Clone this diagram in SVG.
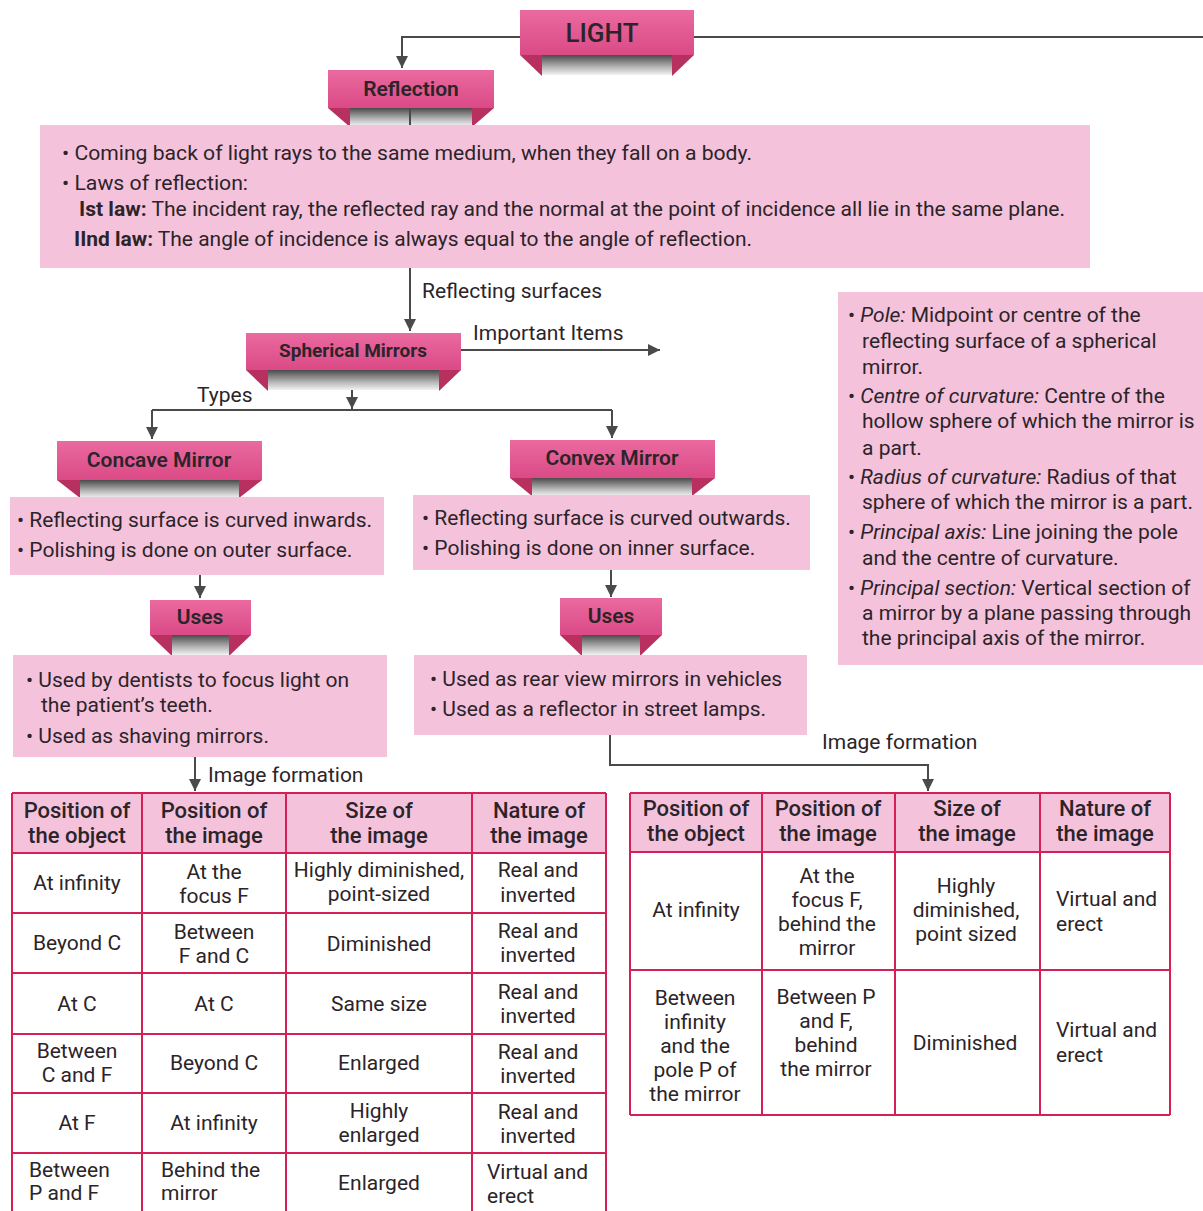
<svg xmlns="http://www.w3.org/2000/svg" width="1203" height="1211" viewBox="0 0 1203 1211">
<defs>
<linearGradient id="pk" x1="0" y1="0" x2="0" y2="1"><stop offset="0" stop-color="#ea6aa0"/><stop offset="1" stop-color="#db4a86"/></linearGradient>
<linearGradient id="gr" x1="0" y1="0" x2="0" y2="1"><stop offset="0" stop-color="#4a4a4a"/><stop offset="0.6" stop-color="#b5b5b5"/><stop offset="1" stop-color="#f2f2f2"/></linearGradient>
<marker id="ah" viewBox="0 0 10 10" refX="10" refY="5" markerWidth="12" markerHeight="12" markerUnits="userSpaceOnUse" orient="auto"><path d="M0,0 L10,5 L0,10 z" fill="#4a4a4a"/></marker>
<style>
text{font-family:Roboto,"Liberation Sans",sans-serif;fill:#2b2428}
.ban{fill:url(#pk)}
.rib{fill:url(#gr)}
.wing{fill:#b8305f}
.bt{font-weight:600;font-size:21px;text-anchor:middle}
.box{fill:#f5c2dc}
.t{font-size:21px}
.c{font-size:21px;text-anchor:middle}
.h{font-size:22px;font-weight:500;text-anchor:middle}
.lbl{font-size:21px}
.cn{fill:none;stroke:#4a4a4a;stroke-width:2}
.tb{fill:none;stroke:#d51f55;stroke-width:2}
.hd{fill:#f5c2dc}
.i{font-style:italic}
</style>
</defs>
<rect width="1203" height="1211" fill="#fff"/>

<g id="light">
<rect class="ban" x="520" y="10" width="174" height="45"/>
<rect class="rib" x="542" y="55" width="130" height="20"/>
<polygon class="wing" points="520,55 542,55 542,76"/>
<polygon class="wing" points="694,55 672,55 672,76"/>
<text x="602" y="42" style="font-size:26px;font-weight:500;text-anchor:middle">LIGHT</text>
</g>

<g id="reflection">
<rect class="ban" x="328" y="70" width="166" height="38"/>
<rect class="rib" x="350" y="108" width="122" height="18"/>
<polygon class="wing" points="328,108 350,108 350,127"/>
<polygon class="wing" points="494,108 472,108 472,127"/>
<text class="bt" x="411" y="96">Reflection</text>
</g>

<g id="reflection-text">
<rect class="box" x="40" y="125" width="1050" height="143"/>
<text class="t" x="62" y="160" textLength="690" lengthAdjust="spacingAndGlyphs">• Coming back of light rays to the same medium, when they fall on a body.</text>
<text class="t" x="62" y="190" textLength="186" lengthAdjust="spacingAndGlyphs">• Laws of reflection:</text>
<text class="t" x="79" y="216" textLength="986" lengthAdjust="spacingAndGlyphs"><tspan font-weight="700">Ist law:</tspan> The incident ray, the reflected ray and the normal at the point of incidence all lie in the same plane.</text>
<text class="t" x="74" y="246" textLength="678" lengthAdjust="spacingAndGlyphs"><tspan font-weight="700">IInd law:</tspan> The angle of incidence is always equal to the angle of reflection.</text>
</g>

<g id="spherical">
<rect class="ban" x="246" y="333" width="215" height="37"/>
<rect class="rib" x="268" y="370" width="171" height="20"/>
<polygon class="wing" points="246,370 268,370 268,391"/>
<polygon class="wing" points="461,370 439,370 439,391"/>
<text class="bt" x="353" y="357" style="font-size:19px;font-weight:700">Spherical Mirrors</text>
</g>

<g id="concave">
<rect class="ban" x="57" y="441" width="205" height="39"/>
<rect class="rib" x="80" y="480" width="159" height="18"/>
<polygon class="wing" points="57,480 80,480 80,498"/>
<polygon class="wing" points="262,480 239,480 239,498"/>
<text class="bt" x="159" y="467">Concave Mirror</text>
</g>
<g id="concave-text">
<rect class="box" x="10" y="497" width="374" height="78"/>
<text class="t" x="17" y="527">• Reflecting surface is curved inwards.</text>
<text class="t" x="17" y="557">• Polishing is done on outer surface.</text>
</g>

<g id="uses-left">
<rect class="ban" x="150" y="600" width="101" height="35"/>
<rect class="rib" x="172" y="635" width="57" height="20"/>
<polygon class="wing" points="150,635 172,635 172,656"/>
<polygon class="wing" points="251,635 229,635 229,656"/>
<text class="bt" x="200" y="624">Uses</text>
</g>
<g id="uses-left-text">
<rect class="box" x="13" y="655" width="374" height="102"/>
<text class="t" x="26" y="687">• Used by dentists to focus light on</text>
<text class="t" x="41" y="712">the patient’s teeth.</text>
<text class="t" x="26" y="743">• Used as shaving mirrors.</text>
</g>

<g id="convex">
<rect class="ban" x="510" y="440" width="205" height="38"/>
<rect class="rib" x="532" y="478" width="160" height="18"/>
<polygon class="wing" points="510,478 532,478 532,496"/>
<polygon class="wing" points="715,478 692,478 692,496"/>
<text class="bt" x="612" y="465">Convex Mirror</text>
</g>
<g id="convex-text">
<rect class="box" x="413" y="495" width="397" height="75"/>
<text class="t" x="422" y="525">• Reflecting surface is curved outwards.</text>
<text class="t" x="422" y="555">• Polishing is done on inner surface.</text>
</g>

<g id="uses-right">
<rect class="ban" x="560" y="598" width="102" height="37"/>
<rect class="rib" x="582" y="635" width="58" height="20"/>
<polygon class="wing" points="560,635 582,635 582,656"/>
<polygon class="wing" points="662,635 640,635 640,656"/>
<text class="bt" x="611" y="623">Uses</text>
</g>
<g id="uses-right-text">
<rect class="box" x="414" y="655" width="393" height="80"/>
<text class="t" x="430" y="686">• Used as rear view mirrors in vehicles</text>
<text class="t" x="430" y="716">• Used as a reflector in street lamps.</text>
</g>

<g id="important-items">
<rect class="box" x="838" y="292" width="365" height="373"/>
<text class="t" x="848" y="322">• <tspan class="i">Pole:</tspan>  Midpoint or centre of the</text>
<text class="t" x="862" y="348">reflecting surface of a spherical</text>
<text class="t" x="862" y="374">mirror.</text>
<text class="t" x="848" y="403">• <tspan class="i">Centre of curvature:</tspan>  Centre of the</text>
<text class="t" x="862" y="428">hollow sphere of which the mirror is</text>
<text class="t" x="862" y="455">a part.</text>
<text class="t" x="848" y="484">• <tspan class="i">Radius of curvature:</tspan> Radius of that</text>
<text class="t" x="862" y="509">sphere of which the mirror is a part.</text>
<text class="t" x="848" y="539">• <tspan class="i">Principal axis:</tspan> Line joining the pole</text>
<text class="t" x="862" y="565">and the centre of curvature.</text>
<text class="t" x="848" y="595">• <tspan class="i">Principal section:</tspan> Vertical section of</text>
<text class="t" x="862" y="620">a mirror by a plane passing through</text>
<text class="t" x="862" y="645">the principal axis of the mirror.</text>
</g>

<g id="table-concave">
<rect class="hd" x="12" y="793" width="594" height="60"/>
<path class="tb" d="M12,793 H606 M12,853 H606 M12,913 H606 M12,973 H606 M12,1034 H606 M12,1093 H606 M12,1153 H606 M12,793 V1213 M142,793 V1213 M286,793 V1213 M472,793 V1213 M606,793 V1213"/>
<text class="h" x="77" y="818">Position of</text><text class="h" x="77" y="843">the object</text>
<text class="h" x="214" y="818">Position of</text><text class="h" x="214" y="843">the image</text>
<text class="h" x="379" y="818">Size of</text><text class="h" x="379" y="843">the image</text>
<text class="h" x="539" y="818">Nature of</text><text class="h" x="539" y="843">the image</text>

<text class="c" x="77" y="890">At infinity</text>
<text class="c" x="214" y="879">At the</text><text class="c" x="214" y="903">focus F</text>
<text class="c" x="379" y="877">Highly diminished,</text><text class="c" x="379" y="901">point-sized</text>
<text class="c" x="538" y="877">Real and</text><text class="c" x="538" y="902">inverted</text>

<text class="c" x="77" y="950">Beyond C</text>
<text class="c" x="214" y="939">Between</text><text class="c" x="214" y="963">F and C</text>
<text class="c" x="379" y="951">Diminished</text>
<text class="c" x="538" y="938">Real and</text><text class="c" x="538" y="962">inverted</text>

<text class="c" x="77" y="1011">At C</text>
<text class="c" x="214" y="1011">At C</text>
<text class="c" x="379" y="1011">Same size</text>
<text class="c" x="538" y="999">Real and</text><text class="c" x="538" y="1023">inverted</text>

<text class="c" x="77" y="1058">Between</text><text class="c" x="77" y="1082">C and F</text>
<text class="c" x="214" y="1070">Beyond C</text>
<text class="c" x="379" y="1070">Enlarged</text>
<text class="c" x="538" y="1059">Real and</text><text class="c" x="538" y="1083">inverted</text>

<text class="c" x="77" y="1130">At F</text>
<text class="c" x="214" y="1130">At infinity</text>
<text class="c" x="379" y="1118">Highly</text><text class="c" x="379" y="1142">enlarged</text>
<text class="c" x="538" y="1119">Real and</text><text class="c" x="538" y="1143">inverted</text>

<text class="t" x="29" y="1177">Between</text><text class="t" x="29" y="1200">P and F</text>
<text class="t" x="161" y="1177">Behind the</text><text class="t" x="161" y="1200">mirror</text>
<text class="c" x="379" y="1190">Enlarged</text>
<text class="t" x="487" y="1179">Virtual and</text><text class="t" x="487" y="1203">erect</text>
</g>

<g id="table-convex">
<rect class="hd" x="630" y="793" width="540" height="59"/>
<path class="tb" d="M630,793 H1170 M630,852 H1170 M630,970 H1170 M630,1115 H1170 M630,793 V1115 M762,793 V1115 M895,793 V1115 M1040,793 V1115 M1170,793 V1115"/>
<text class="h" x="696" y="816">Position of</text><text class="h" x="696" y="841">the object</text>
<text class="h" x="828" y="816">Position of</text><text class="h" x="828" y="841">the image</text>
<text class="h" x="967" y="816">Size of</text><text class="h" x="967" y="841">the image</text>
<text class="h" x="1105" y="816">Nature of</text><text class="h" x="1105" y="841">the image</text>

<text class="c" x="696" y="917">At infinity</text>
<text class="c" x="827" y="883">At the</text><text class="c" x="827" y="907">focus F,</text><text class="c" x="827" y="931">behind the</text><text class="c" x="827" y="955">mirror</text>
<text class="c" x="966" y="893">Highly</text><text class="c" x="966" y="917">diminished,</text><text class="c" x="966" y="941">point sized</text>
<text class="t" x="1056" y="906">Virtual and</text><text class="t" x="1056" y="931">erect</text>

<text class="c" x="695" y="1005">Between</text><text class="c" x="695" y="1029">infinity</text><text class="c" x="695" y="1053">and the</text><text class="c" x="695" y="1077">pole P of</text><text class="c" x="695" y="1101">the mirror</text>
<text class="c" x="826" y="1004">Between P</text><text class="c" x="826" y="1028">and F,</text><text class="c" x="826" y="1052">behind</text><text class="c" x="826" y="1076">the mirror</text>
<text class="c" x="965" y="1050">Diminished</text>
<text class="t" x="1056" y="1037">Virtual and</text><text class="t" x="1056" y="1062">erect</text>
</g>

<g id="connectors">
<path class="cn" d="M520,37 H402 V68" marker-end="url(#ah)"/>
<path class="cn" d="M694,37 H1203"/>
<path class="cn" d="M410,108 V125"/>
<path class="cn" d="M410,268 V331" marker-end="url(#ah)"/>
<path class="cn" d="M461,350 H660" marker-end="url(#ah)"/>
<path class="cn" d="M352,390 V409" marker-end="url(#ah)"/>
<path class="cn" d="M152,410 H612"/>
<path class="cn" d="M152,410 V439" marker-end="url(#ah)"/>
<path class="cn" d="M612,410 V438" marker-end="url(#ah)"/>
<path class="cn" d="M200,575 V598" marker-end="url(#ah)"/>
<path class="cn" d="M195,757 V791" marker-end="url(#ah)"/>
<path class="cn" d="M611,570 V597" marker-end="url(#ah)"/>
<path class="cn" d="M610,735 V765 H928 V791" marker-end="url(#ah)"/>
<text class="lbl" x="422" y="298">Reflecting surfaces</text>
<text class="lbl" x="473" y="340">Important Items</text>
<text class="lbl" x="197" y="402">Types</text>
<text class="lbl" x="208" y="782">Image formation</text>
<text class="lbl" x="822" y="749">Image formation</text>
</g>
</svg>
